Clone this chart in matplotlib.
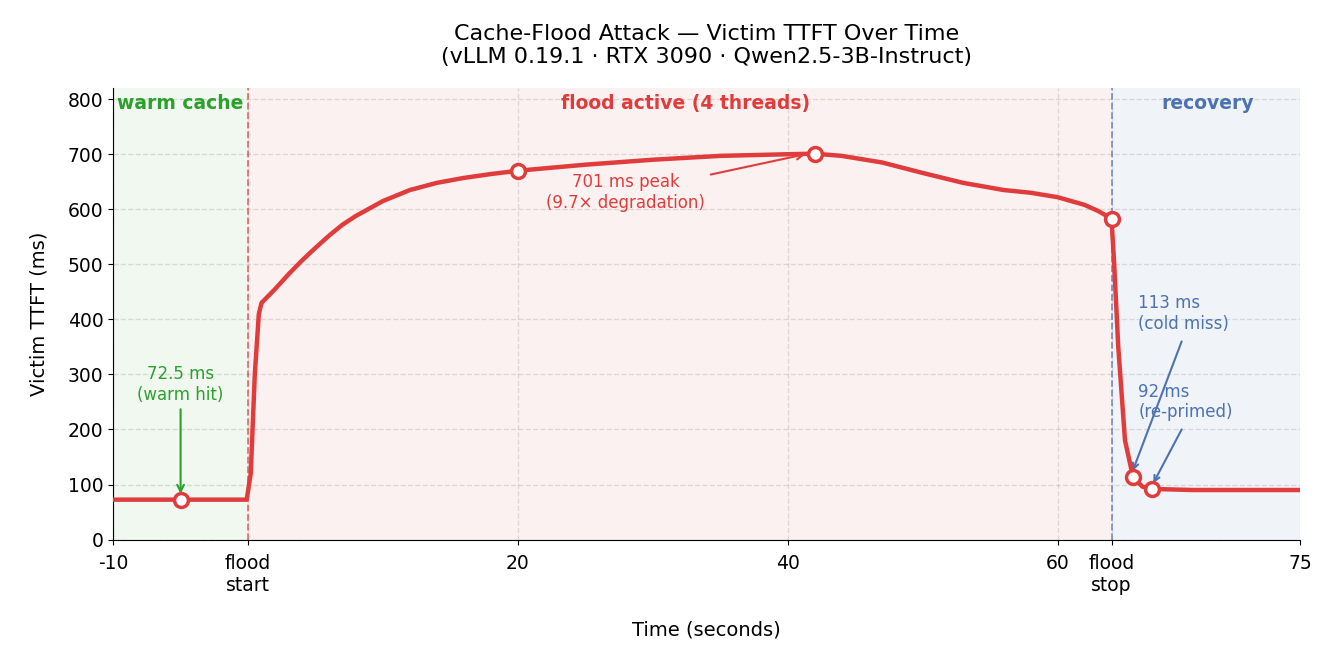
import matplotlib
matplotlib.use("Agg")
import matplotlib.pyplot as plt

# curve (time in s, TTFT in ms)
t = [-10, -0.1, 0.2, 0.5, 0.8, 1, 2, 3, 4, 5, 6, 7, 8, 10, 12, 14, 16, 18, 20,
     25, 30, 35, 40, 42, 44, 47, 50, 53, 56, 58, 60, 62, 63, 64, 64.2, 64.5,
     65, 65.6, 66.3, 67, 70, 78]
ttft = [72.5, 72.5, 120, 300, 410, 430, 455, 482, 507, 530, 552, 572, 588,
        615, 635, 648, 657, 664, 670, 681, 690, 697, 700, 701, 697, 685, 666,
        648, 635, 630, 622, 608, 597, 583, 500, 350, 180, 113, 96, 92, 90, 90]
mark_t = [-5, 20, 42, 64, 65.6, 67]
mark_v = [72.5, 670, 701, 583, 113, 92]

tick_pos = [-10, 0, 20, 40, 60, 64, 78]
tick_lab = ["-10", "flood\nstart", "20", "40", "60", "flood\nstop", "75"]

RED, GREEN, BLUE = "#e03c3c", "#2ca02c", "#4c72b0"

fig, ax = plt.subplots(figsize=(13.31, 6.58), dpi=100)
fig.subplots_adjust(left=0.085, right=0.977, top=0.866, bottom=0.18)

ax.axvspan(-10, 0, color=GREEN, alpha=0.07, lw=0)
ax.axvspan(0, 64, color=RED, alpha=0.07, lw=0)
ax.axvspan(64, 78, color=BLUE, alpha=0.08, lw=0)
ax.axvline(0, color=RED, ls="--", lw=1.3, alpha=0.7)
ax.axvline(64, color=BLUE, ls="--", lw=1.3, alpha=0.7)

ax.plot(t, ttft, color=RED, lw=3.2, zorder=4)
ax.plot(mark_t, mark_v, "o", ms=10, mfc="white", mec=RED, mew=2.5, zorder=5)

ax.text(-5, 792, "warm cache", color=GREEN, fontsize=13.5, weight="bold", ha="center", va="center")
ax.text(32.4, 792, "flood active (4 threads)", color=RED, fontsize=13.5, weight="bold", ha="center", va="center")
ax.text(71.1, 792, "recovery", color=BLUE, fontsize=13.5, weight="bold", ha="center", va="center")

ax.annotate("72.5 ms\n(warm hit)", xy=(-5, 78), xytext=(-5, 282), color=GREEN,
            fontsize=12, ha="center", va="center",
            arrowprops=dict(arrowstyle="->", color=GREEN, lw=1.5))
ax.annotate("701 ms peak\n(9.7× degradation)", xy=(41.5, 701), xytext=(28, 630), color=RED,
            fontsize=12, ha="center", va="center",
            arrowprops=dict(arrowstyle="->", color=RED, lw=1.5, shrinkA=2))

ax.text(66.0, 410, "113 ms\n(cold miss)", color=BLUE, fontsize=12, ha="left", va="center")
ax.annotate("", xy=(65.5, 120), xytext=(69.2, 360),
            arrowprops=dict(arrowstyle="->", color=BLUE, lw=1.5, shrinkA=0))
ax.text(66.0, 250, "92 ms\n(re-primed)", color=BLUE, fontsize=12, ha="left", va="center")
ax.annotate("", xy=(67, 98), xytext=(69.2, 200),
            arrowprops=dict(arrowstyle="->", color=BLUE, lw=1.5, shrinkA=0))

ax.set_xlim(-10, 78)
ax.set_ylim(0, 820)
ax.set_xticks(tick_pos)
ax.set_xticklabels(tick_lab, fontsize=13.5)
ax.set_yticks(range(0, 801, 100))
ax.tick_params(axis="y", labelsize=13.5)
ax.tick_params(axis="x", pad=7)
ax.grid(True, ls="--", color="#999999", alpha=0.3, lw=1)
ax.set_axisbelow(True)
for s in ("top", "right"):
    ax.spines[s].set_visible(False)
ax.set_xlabel("Time (seconds)", fontsize=14, labelpad=18)
ax.set_ylabel("Victim TTFT (ms)", fontsize=14, labelpad=14)
ax.set_title("Cache-Flood Attack — Victim TTFT Over Time\n(vLLM 0.19.1 · RTX 3090 · Qwen2.5-3B-Instruct)",
             fontsize=16, pad=18)

fig.savefig("out.png", dpi=100)
